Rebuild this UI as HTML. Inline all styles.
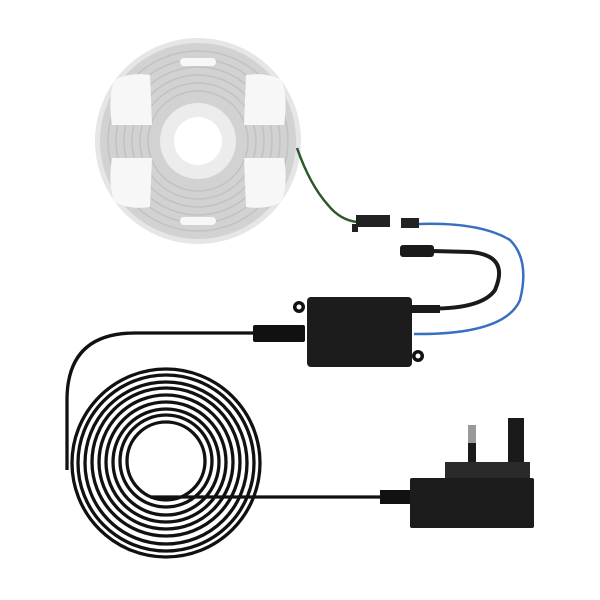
<!DOCTYPE html>
<html><head><style>html,body{margin:0;background:#fff}svg{display:block}</style></head><body>
<svg width="600" height="600" viewBox="0 0 600 600">
<!-- reel -->
<circle cx="198" cy="141" r="103" fill="#e6e6e6"/>
<circle cx="198" cy="141" r="98" fill="#d2d2d2"/>
<g fill="none" stroke="#c2c2c2" stroke-width="1.5">
<circle cx="198" cy="141" r="90"/><circle cx="198" cy="141" r="82"/><circle cx="198" cy="141" r="74"/><circle cx="198" cy="141" r="66"/><circle cx="198" cy="141" r="58"/><circle cx="198" cy="141" r="50"/></g>
<path d="M114 80 Q130 72 150 75 L152 125 L112 125 Q108 100 114 80Z" fill="#f7f7f7"/>
<path d="M282 80 Q266 72 246 75 L244 125 L284 125 Q288 100 282 80Z" fill="#f7f7f7"/>
<path d="M114 202 Q130 210 150 207 L152 158 L112 158 Q108 182 114 202Z" fill="#f7f7f7"/>
<path d="M282 202 Q266 210 246 207 L244 158 L284 158 Q288 182 282 202Z" fill="#f7f7f7"/>
<rect x="180" y="58" width="36" height="8" rx="4" fill="#f7f7f7"/>
<rect x="180" y="217" width="36" height="8" rx="4" fill="#f7f7f7"/>
<circle cx="198" cy="141" r="38" fill="#ececec"/>
<circle cx="198" cy="141" r="24" fill="#fff"/>
<!-- wires -->
<path d="M297 148 Q310 185 328 205 Q340 220 357 222" fill="none" stroke="#2c5a2c" stroke-width="2.5"/>
<rect x="356" y="215" width="34" height="12" fill="#222"/>
<rect x="352" y="224" width="6" height="8" fill="#222"/>
<rect x="401" y="218" width="18" height="10" fill="#222"/>
<path d="M419 224 Q480 222 510 240 Q530 260 520 300 Q505 335 414 334" fill="none" stroke="#3a6fc0" stroke-width="2.5"/>
<path d="M412 308 Q480 312 495 290 Q510 255 470 252 L432 251" fill="none" stroke="#1a1a1a" stroke-width="4"/>
<rect x="400" y="245" width="34" height="12" rx="3" fill="#1a1a1a"/>
<!-- coil -->
<g fill="none" stroke="#111" stroke-width="3.3">
<circle cx="166" cy="461" r="39"/>
<circle cx="166" cy="461" r="46"/>
<circle cx="166" cy="462" r="53"/>
<circle cx="166" cy="462" r="60"/>
<circle cx="166" cy="462" r="67"/>
<circle cx="166" cy="462" r="74"/>
<circle cx="166" cy="463" r="81"/>
<circle cx="166" cy="463" r="88"/>
<circle cx="166" cy="463" r="94"/>
<path d="M67 470 L67 400 Q67 333 135 333 L255 333"/>
<path d="M150 497 L380 497"/>
</g>
<rect x="253" y="325" width="52" height="17" rx="2" fill="#111"/>
<rect x="380" y="490" width="30" height="14" fill="#111"/>
<!-- controller -->
<circle cx="299" cy="307" r="6" fill="#111"/><circle cx="299" cy="307" r="2.5" fill="#fff"/>
<circle cx="418" cy="356" r="6" fill="#111"/><circle cx="418" cy="356" r="2.5" fill="#fff"/>
<rect x="307" y="297" width="105" height="70" rx="4" fill="#1c1c1c"/>
<rect x="410" y="305" width="30" height="8" fill="#1a1a1a"/>
<!-- plug -->
<rect x="468" y="425" width="8" height="20" fill="#999"/>
<rect x="468" y="443" width="8" height="20" fill="#1a1a1a"/>
<rect x="508" y="418" width="16" height="60" fill="#1a1a1a"/>
<rect x="445" y="462" width="85" height="18" fill="#2a2a2a"/>
<rect x="410" y="478" width="124" height="50" rx="2" fill="#1c1c1c"/>
</svg>
</body></html>
